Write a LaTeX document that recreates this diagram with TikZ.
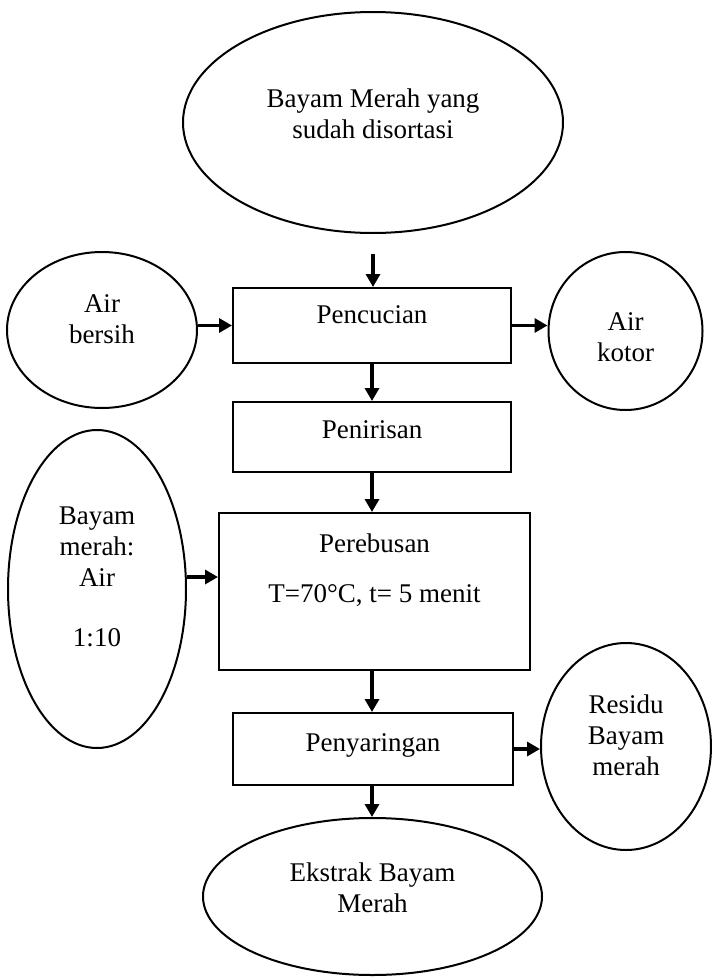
\documentclass[tikz,border=0pt]{standalone}
\usepackage{fontspec}
\setmainfont{Liberation Serif}
\usetikzlibrary{shapes.geometric,arrows.meta}
\begin{document}
\begin{tikzpicture}[x=1pt,y=-1pt,
  ell/.style={draw,ellipse,line width=2pt,inner sep=0pt},
  box/.style={draw,rectangle,line width=2pt,inner sep=0pt},
  txt/.style={font=\fontsize{27}{31}\selectfont,align=center,inner sep=0pt},
  arr/.style={line width=3.5pt,-{Triangle[length=13pt,width=14pt]}}]
\useasboundingbox (0,0) rectangle (712,977);
% ellipses
\node[ell,minimum width=380pt,minimum height=221pt,
  label={[txt,yshift=9pt]center:Bayam Merah yang\\sudah disortasi}] (start) at (373,122.5) {};
\node[ell,minimum width=190pt,minimum height=156pt,
  label={[txt,yshift=11pt]center:Air\\bersih}] (airb) at (102,330) {};
\node[ell,minimum width=154pt,minimum height=158pt,
  label={[txt,yshift=-6pt]center:Air\\kotor}] (airk) at (625.5,331) {};
\node[ell,minimum width=178pt,minimum height=318pt,
  label={[txt,yshift=12pt]center:Bayam\\merah:\\Air\\[29pt]1:10}] (ratio) at (97,589) {};
\node[ell,minimum width=170pt,minimum height=207pt,
  label={[txt,yshift=11pt]center:Residu\\Bayam\\merah}] (resid) at (626,746.5) {};
\node[ell,minimum width=339pt,minimum height=157pt,
  label={[txt,yshift=9pt]center:Ekstrak Bayam\\Merah}] (ekstr) at (372.5,896.5) {};
% boxes
\node[box,minimum width=278pt,minimum height=75pt,
  label={[txt,yshift=10.5pt]center:Pencucian}] (penc) at (372,325.5) {};
\node[box,minimum width=278pt,minimum height=70pt,
  label={[txt,yshift=7pt]center:Penirisan}] (penir) at (372,437) {};
\node[box,minimum width=311pt,minimum height=157pt,
  label={[txt,yshift=21.5pt]center:Perebusan\\[19pt]T=70°C, t= 5 menit}] (pereb) at (374.5,591.5) {};
\node[box,minimum width=280pt,minimum height=72pt,
  label={[txt,yshift=4pt]center:Penyaringan}] (penya) at (373,749) {};
% arrows
\draw[arr,shorten <=20pt] (start.south) -- (start.south |- penc.north);
\draw[arr] (airb.east |- penc.west) -- (penc.west);
\draw[arr] (penc.east) -- (penc.east -| airk.west);
\draw[arr] (penc.south) -- (penc.south |- penir.north);
\draw[arr] (penir.south) -- (penir.south |- pereb.north);
\draw[arr] ([yshift=12pt]ratio.east) -- ([yshift=12pt]ratio.east -| pereb.west);
\draw[arr] (penir.south |- pereb.south) -- (penir.south |- penya.north);
\draw[arr] (penya.east) -- (penya.east -| resid.west);
\draw[arr] (penir.south |- penya.south) -- (penir.south |- ekstr.north);
\end{tikzpicture}
\end{document}
